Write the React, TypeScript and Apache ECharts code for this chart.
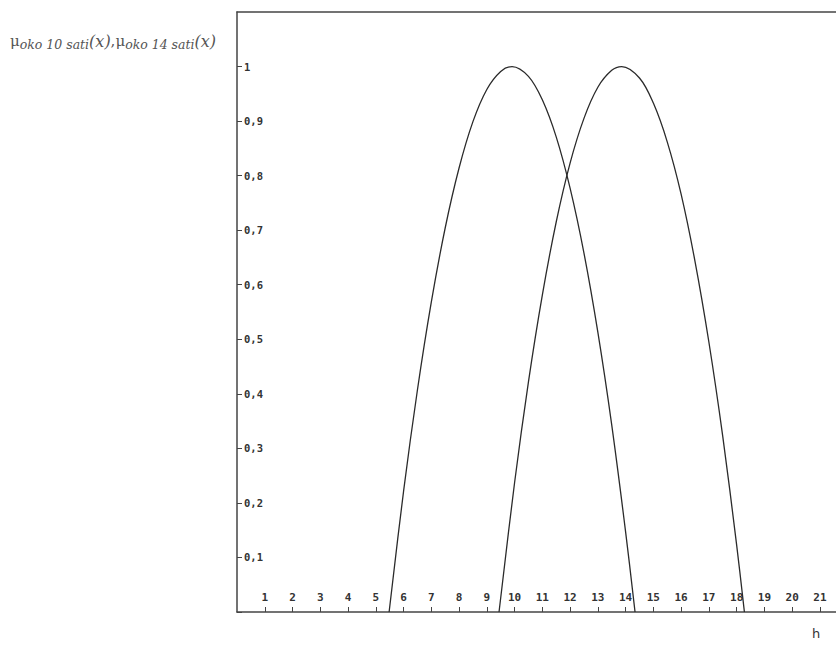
import React, { useEffect, useRef } from 'react';
import * as echarts from 'echarts';

// Membership curve "oko 10 sati" (x in hours, y membership)
const curve10X = [5.48, 6, 6.5, 7, 7.5, 8, 8.5, 9, 9.5, 9.91, 10.5, 11, 11.5, 12, 12.5, 13, 13.5, 14, 14.34];
const curve10Y = [0, 0.221, 0.407, 0.568, 0.704, 0.814, 0.899, 0.958, 0.991, 1, 0.982, 0.939, 0.871, 0.777, 0.658, 0.513, 0.343, 0.147, 0];

// Membership curve "oko 14 sati"
const curve14X = [9.44, 10, 10.5, 11, 11.5, 12, 12.5, 13, 13.5, 13.86, 14.5, 15, 15.5, 16, 16.5, 17, 17.5, 18, 18.28];
const curve14Y = [0, 0.237, 0.422, 0.581, 0.715, 0.823, 0.905, 0.962, 0.993, 1, 0.979, 0.933, 0.862, 0.766, 0.643, 0.495, 0.322, 0.123, 0];

const xTickLabels = [1, 2, 3, 4, 5, 6, 7, 8, 9, 10, 11, 12, 13, 14, 15, 16, 17, 18, 19, 20, 21];
const yTickLabels = [0.1, 0.2, 0.3, 0.4, 0.5, 0.6, 0.7, 0.8, 0.9, 1];

const X_MIN = 0;
const X_MAX = 21.58;
const Y_MIN = 0;
const Y_MAX = 1.1;

const fmtY = (v: number) => (Math.abs(v - 1) < 1e-9 ? '1' : v.toFixed(1).replace('.', ','));

export default function App() {
  const ref = useRef<HTMLDivElement>(null);
  useEffect(() => {
    if (!ref.current) return;
    const chart = echarts.init(ref.current, null, { renderer: 'svg' });
    const labelFont = {
      fontFamily: '"DejaVu Sans Mono", monospace',
      fontWeight: 'bold' as const,
      color: '#333',
    };
    const xLabelSet = new Set(xTickLabels);
    chart.setOption({
      animation: false,
      backgroundColor: '#fff',
      grid: { left: 237, right: 0, top: 12, bottom: 34, containLabel: false },
      xAxis: [
        {
          type: 'value',
          min: X_MIN,
          max: X_MAX,
          interval: 1,
          position: 'bottom',
          axisLine: { show: true, onZero: false, lineStyle: { color: '#444', width: 1.5 } },
          axisTick: {
            show: true,
            inside: true,
            length: 5,
            customValues: xTickLabels,
            lineStyle: { color: '#444', width: 1 },
          },
          axisLabel: {
            show: true,
            inside: true,
            margin: 9,
            customValues: xTickLabels,
            formatter: (v: number) => (xLabelSet.has(Math.round(v * 1000) / 1000) ? String(v) : ''),
            fontSize: 11,
            ...labelFont,
          },
          splitLine: { show: false },
        },
        {
          type: 'value',
          min: X_MIN,
          max: X_MAX,
          interval: 1,
          position: 'top',
          axisLine: { show: true, onZero: false, lineStyle: { color: '#444', width: 1.5 } },
          axisTick: { show: false },
          axisLabel: { show: false },
          splitLine: { show: false },
        },
      ],
      yAxis: {
        type: 'value',
        min: Y_MIN,
        max: Y_MAX,
        interval: 0.1,
        axisLine: { show: true, onZero: false, lineStyle: { color: '#444', width: 1.5 } },
        axisTick: {
          show: true,
          inside: true,
          length: 5,
          customValues: [0, ...yTickLabels],
          lineStyle: { color: '#444', width: 1 },
        },
        axisLabel: {
          show: true,
          inside: true,
          margin: 7,
          customValues: yTickLabels,
          formatter: (v: number) =>
            yTickLabels.some((t) => Math.abs(t - v) < 1e-6) ? fmtY(v) : '',
          fontSize: 10.5,
          ...labelFont,
        },
        splitLine: { show: false },
      },
      series: [
        {
          type: 'line',
          name: 'oko 10 sati',
          xAxisIndex: 0,
          data: curve10X.map((x, i) => [x, curve10Y[i]]),
          smooth: 0.35,
          showSymbol: false,
          lineStyle: { color: '#2b2b2b', width: 1.3 },
          silent: true,
        },
        {
          type: 'line',
          name: 'oko 14 sati',
          xAxisIndex: 0,
          data: curve14X.map((x, i) => [x, curve14Y[i]]),
          smooth: 0.35,
          showSymbol: false,
          lineStyle: { color: '#2b2b2b', width: 1.3 },
          silent: true,
        },
      ],
      graphic: [
        {
          type: 'text',
          left: 10,
          top: 33,
          style: {
            text: '{u|μ}{s|oko 10 sati}{m|(x)}{u|,}{u|μ}{s|oko 14 sati}{m|(x)}',
            rich: {
              u: {
                fontFamily: '"DejaVu Serif", serif',
                fontSize: 15,
                lineHeight: 20,
                fill: '#555',
                verticalAlign: 'middle',
              },
              m: {
                fontFamily: '"DejaVu Serif", serif',
                fontStyle: 'italic',
                fontSize: 16,
                lineHeight: 20,
                fill: '#555',
                verticalAlign: 'middle',
              },
              s: {
                fontFamily: '"DejaVu Serif", serif',
                fontStyle: 'italic',
                fontSize: 12.5,
                lineHeight: 14,
                fill: '#555',
                verticalAlign: 'bottom',
              },
            },
          },
        },
        {
          type: 'text',
          left: 812,
          top: 627,
          style: {
            text: 'h',
            fontFamily: '"DejaVu Sans", sans-serif',
            fontSize: 13,
            fill: '#333',
          },
        },
      ],
    });
    return () => chart.dispose();
  }, []);
  return (
    <div
      ref={ref}
      style={{ position: 'absolute', left: 0, top: 0, width: 836, height: 646, background: '#fff' }}
    />
  );
}
